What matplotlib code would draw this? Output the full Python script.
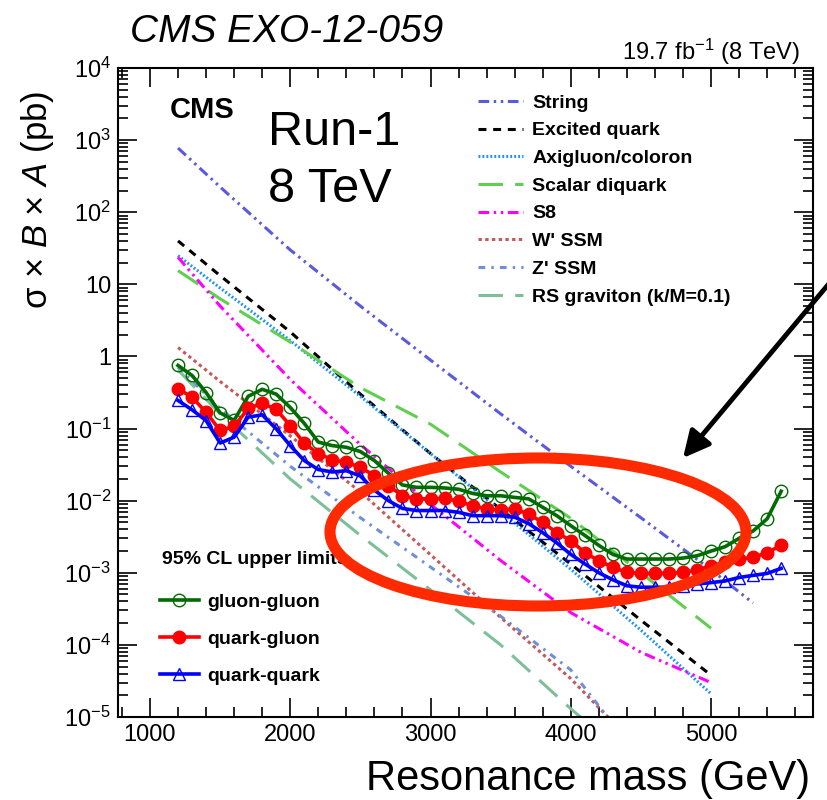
import numpy as np
import matplotlib
matplotlib.use('Agg')
import matplotlib.pyplot as plt
from matplotlib.patches import Ellipse
from matplotlib.ticker import FixedLocator, FixedFormatter, LogLocator, NullFormatter, MultipleLocator

plt.rcParams['font.family'] = 'Liberation Sans'
plt.rcParams['mathtext.fontset'] = 'custom'
plt.rcParams['mathtext.rm'] = 'Liberation Sans'
plt.rcParams['mathtext.it'] = 'Liberation Sans:italic'
plt.rcParams['mathtext.bf'] = 'Liberation Sans:bold'

# observed 95% CL limits, 1200-5500 GeV in 100 GeV steps
mass = np.arange(1200, 5501, 100)
lim_gg = [0.75, 0.545, 0.316, 0.165, 0.13, 0.28, 0.35, 0.30, 0.196, 0.118,
          0.065, 0.058, 0.055, 0.048, 0.036, 0.024, 0.0165, 0.0153, 0.0153, 0.015,
          0.0144, 0.0126, 0.0117, 0.0117, 0.0111, 0.0106, 0.0081, 0.0062, 0.0045, 0.0033,
          0.0024, 0.0018, 0.00155, 0.00155, 0.00155, 0.00155, 0.0016, 0.00172, 0.002, 0.0023,
          0.003, 0.0038, 0.0056, 0.0135]
lim_qg = [0.356, 0.272, 0.168, 0.094, 0.107, 0.19, 0.224, 0.184, 0.110, 0.0625,
          0.045, 0.037, 0.034, 0.029, 0.0222, 0.0162, 0.0117, 0.0106, 0.0106, 0.0108,
          0.0098, 0.0085, 0.0077, 0.0074, 0.0077, 0.0065, 0.0050, 0.0036, 0.0028, 0.0019,
          0.00147, 0.00119, 0.00101, 0.00098, 0.00098, 0.00098, 0.00101, 0.00109, 0.00125, 0.00139,
          0.00155, 0.00163, 0.0019, 0.0024]
lim_qq = [0.245, 0.182, 0.129, 0.063, 0.076, 0.144, 0.155, 0.099, 0.058, 0.036,
          0.027, 0.025, 0.026, 0.022, 0.014, 0.010, 0.0078, 0.0073, 0.0073, 0.0073,
          0.0069, 0.0062, 0.0062, 0.0062, 0.0059, 0.0048, 0.0036, 0.0026, 0.0018, 0.00133,
          0.001, 0.0008, 0.00066, 0.00063, 0.00063, 0.00063, 0.00066, 0.0007, 0.00073, 0.00077,
          0.00086, 0.00092, 0.00098, 0.00115]

# model cross sections
m_th = [1200, 1500, 2000, 2500, 3000, 3500, 4000, 4500, 5000]
xs_string = [776, 224, 30, 5.0, 0.89, 0.16, 0.030, 0.0058, 0.0011, 0.00038]
m_string = m_th + [5300]
xs_qstar = [40, 13.2, 2.19, 0.30, 0.045, 0.0076, 0.00132, 2.2e-4, 3.8e-5]
xs_axi = [25, 8.9, 1.66, 0.28, 0.045, 0.0071, 0.00112, 1.6e-4, 2.1e-5]
xs_diquark = [15.5, 6.3, 1.58, 0.37, 0.115, 0.025, 0.0057, 0.001, 1.7e-4]
xs_s8 = [23.7, 5.0, 0.48, 0.060, 0.0089, 0.00148, 2.8e-4, 7.9e-5, 3.0e-5]
m_ew = [1200, 1500, 2000, 2500, 3000, 3500, 4000, 4300]
xs_wprime = [1.33, 0.45, 0.079, 0.0132, 0.00178, 2.4e-4, 3.4e-5, 8.5e-6]
xs_zprime = [0.71, 0.19, 0.030, 0.0058, 0.0012, 2.5e-4, 4.5e-5, 8e-6]
m_rs = [1200, 1500, 2000, 2500, 3000, 3500, 4000, 4100]
xs_rs = [0.65, 0.16, 0.020, 0.0033, 5.8e-4, 1.0e-4, 1.3e-5, 8.9e-6]

fig = plt.figure(figsize=(8.28, 8.0), dpi=100)
ax = fig.add_axes([118/828, 83/800, 695/828, 649/800])
ax.set_yscale('log')
ax.set_xlim(772, 5727)
ax.set_ylim(1e-5, 1e4)

lw = 2.2
th = [
    (m_string, xs_string, '#5a5adc', (3.5, 1.5, 0.8, 1.5, 0.8, 1.5), 'String'),
    (m_th, xs_qstar, 'black', (2.6, 2.2), 'Excited quark'),
    (m_th, xs_axi, '#1e90ff', (0.6, 0.7), 'Axigluon/coloron'),
    (m_th, xs_diquark, '#5fcf50', (8, 4), 'Scalar diquark'),
    (m_th, xs_s8, '#ff00ff', (3.5, 1.5, 0.8, 1.5, 0.8, 1.5), 'S8'),
    (m_ew, xs_wprime, '#c45a5a', (1.1, 1.1), "W' SSM"),
    (m_ew, xs_zprime, '#6f8fd6', (2.2, 2.0, 0.8, 2.0), "Z' SSM"),
    (m_rs, xs_rs, '#7dbf99', (8, 4), 'RS graviton (k/M=0.1)'),
]
th_handles = []
for mx, xs, col, dash, lab in th:
    h, = ax.plot(mx, xs, color=col, lw=lw, dashes=dash, label=lab, zorder=2)
    th_handles.append(h)

h_gg, = ax.plot(mass, lim_gg, color='#006b00', lw=2.6, marker='o', ms=9,
                mfc='none', mec='#006b00', mew=1.0, zorder=4)
h_qg, = ax.plot(mass, lim_qg, color='#ff0000', lw=2.6, marker='o', ms=9,
                mfc='#ff0000', mec='#ff0000', zorder=4)
h_qq, = ax.plot(mass, lim_qq, color='#0000ff', lw=2.6, marker='^', ms=9,
                mfc='none', mec='#0000ff', mew=1.0, zorder=4)

# axes ticks, ROOT style
ax.xaxis.set_major_locator(MultipleLocator(1000))
ax.xaxis.set_minor_locator(MultipleLocator(200))
ax.yaxis.set_major_locator(FixedLocator([10.0**k for k in range(-5, 5)]))
ylabs = ['$10^{-5}$', '$10^{-4}$', '$10^{-3}$', '$10^{-2}$', '$10^{-1}$', '1', '10',
         '$10^{2}$', '$10^{3}$', '$10^{4}$']
ax.yaxis.set_major_formatter(FixedFormatter(ylabs))
ax.yaxis.set_minor_locator(LogLocator(base=10, subs=np.arange(2, 10), numticks=20))
ax.yaxis.set_minor_formatter(NullFormatter())
ax.tick_params(which='both', direction='in', top=True, right=True, width=1.2)
ax.tick_params(which='major', length=14, labelsize=17)
ax.tick_params(which='minor', length=7)
ax.tick_params(axis='x', pad=5)
ax.tick_params(axis='y', pad=5)
for s in ax.spines.values():
    s.set_linewidth(1.5)

fig.text(38/828, 1 - 200/800, 'σ × $B$ × $A$ (pb)', rotation=90, fontsize=25,
         ha='center', va='center')
fig.text(810/828, 1 - 790/800, 'Resonance mass (GeV)', fontsize=30,
         ha='right', va='baseline')

fig.text(130/828, 1 - 42/800, 'CMS EXO-12-059', fontsize=28, style='italic',
         va='baseline')
fig.text(800/828, 1 - 60/800, '19.7 fb$^{-1}$ (8 TeV)', fontsize=17,
         ha='right', va='baseline')
fig.text(170/828, 1 - 118/800, 'CMS', fontsize=21, weight='bold', va='baseline')
fig.text(268/828, 1 - 145/800, 'Run-1', fontsize=35, va='baseline')
fig.text(268/828, 1 - 202/800, '8 TeV', fontsize=35, va='baseline')

leg1 = ax.legend(handles=th_handles, loc='upper left', frameon=False,
                 bbox_to_anchor=(478/828, 1 - 94/800), bbox_transform=fig.transFigure,
                 prop={'weight': 'bold', 'size': 14}, handlelength=2.3,
                 handletextpad=0.5, labelspacing=0.52, borderpad=0, borderaxespad=0)
ax.add_artist(leg1)

fig.text(162/828, 1 - 564/800, '95% CL upper limits', fontsize=14, weight='bold',
         va='baseline')
ax.legend([h_gg, h_qg, h_qq], ['gluon-gluon', 'quark-gluon', 'quark-quark'],
          loc='upper left', frameon=False, numpoints=1,
          bbox_to_anchor=(160/828, 1 - 593/800), bbox_transform=fig.transFigure,
          prop={'weight': 'bold', 'size': 14}, handlelength=2.0,
          handletextpad=0.45, labelspacing=1.0, borderpad=0, borderaxespad=0)

# highlight of the high-mass region
ring = Ellipse((538/828, 1 - 532/800), 416/828, 148/800, transform=fig.transFigure,
               fill=False, edgecolor='#ff2a00', lw=8, zorder=10)
fig.add_artist(ring)
ax.annotate('', xy=(683, 800 - 458), xytext=(832, 800 - 280), xycoords='figure pixels',
            textcoords='figure pixels',
            arrowprops=dict(arrowstyle='-|>', lw=3.5, color='black', mutation_scale=40,
                            shrinkA=0, shrinkB=0))

fig.savefig('out.png', dpi=100)
